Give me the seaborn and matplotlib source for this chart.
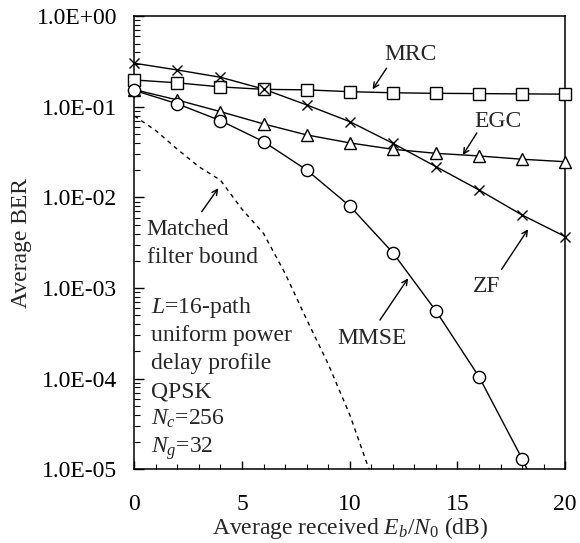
"""BER vs received Eb/N0 for several combining schemes (L=16-path channel)."""
import matplotlib
matplotlib.use("Agg")
import matplotlib.pyplot as plt
import matplotlib.ticker as mticker
import pandas as pd
import seaborn as sns

# --- data ---------------------------------------------------------------
snr_db = [0, 2, 4, 6, 8, 10, 12, 14, 16, 18, 20]
ber_mrc = [0.198, 0.184, 0.166, 0.156, 0.154, 0.147, 0.143, 0.141, 0.140, 0.139, 0.138]
ber_egc = [0.155, 0.119, 0.0885, 0.0648, 0.049, 0.040, 0.034, 0.0307, 0.0287, 0.0264, 0.0248]
ber_zf = [0.303, 0.255, 0.212, 0.157, 0.105, 0.0687, 0.0396, 0.0219, 0.0121, 0.0064, 0.0037]
ber_mmse = [0.152, 0.108, 0.0704, 0.0413, 0.0201, 0.00805, 0.00246, 5.6e-4, 1.05e-4, 1.31e-5, 1.3e-6]

mfb_snr_db = [0, 1, 2, 3, 4, 5, 6, 7, 8, 9, 10, 11]
ber_mfb = [0.0794, 0.0546, 0.034, 0.0218, 0.0155, 0.0074, 0.0040, 0.00145, 4.5e-4, 1.45e-4, 4.0e-5, 8.5e-6]

param_lines = [r"$L$=16-path", "uniform power", "delay profile", "QPSK",
               r"$N_c$=256", r"$N_g$=32"]

sns.set_style("ticks")
plt.rcParams["font.family"] = ["Liberation Serif", "DejaVu Serif"]
plt.rcParams["mathtext.fontset"] = "custom"
plt.rcParams["mathtext.rm"] = "Liberation Serif"
plt.rcParams["mathtext.it"] = "Liberation Serif:italic"
FS = 17

df = pd.DataFrame({
    "snr": snr_db * 4,
    "ber": ber_mrc + ber_egc + ber_zf + ber_mmse,
    "scheme": ["MRC"] * 11 + ["EGC"] * 11 + ["ZF"] * 11 + ["MMSE"] * 11,
})
mfb = pd.DataFrame({"snr": mfb_snr_db, "ber": ber_mfb})

fig = plt.figure(figsize=(5.8, 5.43), dpi=100)
ax = fig.add_axes([0.2316, 0.1358, 0.7428, 0.8343])
ax.set_yscale("log")

markers = {"MRC": ("s", 8.5), "EGC": ("^", 9), "ZF": ("x", 7.7), "MMSE": ("o", 8.8)}
for name, (m, ms) in markers.items():
    sub = df[df.scheme == name]
    sns.lineplot(data=sub, x="snr", y="ber", color="black", lw=1.0, ax=ax,
                 zorder=2, estimator=None)
    vis = sub[sub.ber >= 1e-5]
    sns.lineplot(data=vis, x="snr", y="ber", color="black", ax=ax, linestyle="none",
                 marker=m, ms=ms, mfc="white", mec="black", mew=1.0,
                 clip_on=False, zorder=3, estimator=None)

sns.lineplot(data=mfb, x="snr", y="ber", color="black", lw=1.0, ax=ax,
             dashes=False, estimator=None, zorder=2)
ax.lines[-1].set_dashes((3, 3))

ax.set_xlim(0, 20)
ax.set_ylim(1e-5, 1)
ax.xaxis.set_major_locator(mticker.MultipleLocator(5))
ax.xaxis.set_minor_locator(mticker.MultipleLocator(1))
ax.yaxis.set_major_locator(mticker.LogLocator(base=10, numticks=10))
ax.yaxis.set_minor_locator(mticker.LogLocator(base=10, subs=range(2, 10), numticks=20))
ax.yaxis.set_minor_formatter(mticker.NullFormatter())
ax.yaxis.set_major_formatter(mticker.FuncFormatter(lambda v, _: f"{v:.1E}"))

ax.tick_params(which="both", direction="in", colors="black", labelsize=FS)
ax.tick_params(axis="y", which="major", length=7, width=1.0, pad=12.5)
ax.tick_params(axis="y", which="minor", length=4, width=0.8)
ax.tick_params(axis="x", which="major", length=6, width=1.0, pad=17.5)
ax.tick_params(axis="x", which="minor", length=3.5, width=0.8)
for sp in ax.spines.values():
    sp.set_linewidth(1.1)
    sp.set_color("black")

ax.set_xlabel(r"Average received $E_b$/$N_0$ (dB)", fontsize=FS, labelpad=0)
ax.set_ylabel("Average BER", fontsize=FS, labelpad=3)

arrow = dict(arrowstyle="->", lw=1.0, color="black", shrinkA=0, shrinkB=0)
ax.text(12.8, 0.374, "MRC", fontsize=FS, ha="center", va="center")
ax.annotate("", xy=(11.06, 0.156), xytext=(11.71, 0.267), arrowprops=arrow)
ax.text(16.88, 0.0687, "EGC", fontsize=FS, ha="center", va="center")
ax.annotate("", xy=(15.25, 0.0294), xytext=(15.9, 0.0515), arrowprops=arrow)
ax.text(16.35, 1.04e-3, "ZF", fontsize=FS, ha="center", va="center")
ax.annotate("", xy=(18.28, 4.46e-3), xytext=(17.05, 1.61e-3), arrowprops=arrow)
ax.text(11.02, 2.81e-4, "MMSE", fontsize=FS, ha="center", va="center")
ax.annotate("", xy=(12.71, 1.28e-3), xytext=(11.4, 4.43e-4), arrowprops=arrow)
ax.annotate("", xy=(3.9, 0.01265), xytext=(3.13, 6.97e-3), arrowprops=arrow)

ax.text(0.029, 0.517, "Matched", fontsize=FS, transform=ax.transAxes, va="baseline")
ax.text(0.029, 0.455, "filter bound", fontsize=FS, transform=ax.transAxes, va="baseline")
for i, line in enumerate(param_lines):
    ax.text(0.038, 0.344 - i * 0.0616, line, fontsize=FS, transform=ax.transAxes,
            va="baseline")

fig.savefig("out.png", dpi=100)
